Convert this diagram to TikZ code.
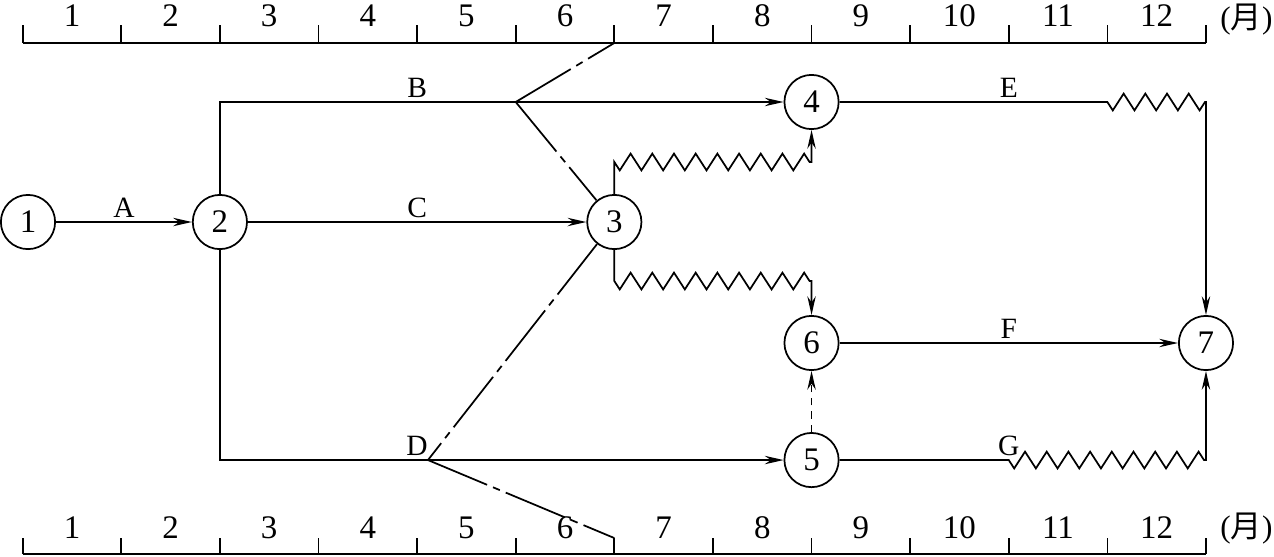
\documentclass[tikz,border=0pt]{standalone}
\usepackage{fontspec}
\setmainfont{Liberation Serif}
\newfontfamily\cjk{Noto Sans CJK SC}
\usetikzlibrary{arrows.meta,decorations.pathmorphing}

\tikzset{
  event/.style={circle,draw,minimum size=1.1cm,inner sep=0pt,font=\fontsize{19}{21}\selectfont},
  lab/.style={above,inner sep=2pt,font=\fontsize{17}{19}\selectfont},
  num/.style={font=\fontsize{19}{21}\selectfont},
  unit/.style={font=\fontsize{18}{20}\selectfont},
  wave/.style={decoration={zigzag,mirror,segment length=0.44cm,amplitude=0.17cm}},
  checkline/.style={dash pattern=on 1.3cm off 0.13cm on 0.15cm off 0.13cm},
}

\begin{document}
\begin{tikzpicture}[>={Stealth[length=3.8mm,width=1.7mm]},line width=1pt]
	  \useasboundingbox (-0.46,-6.775) rectangle (25.38,4.503);
	  % time scales
	  \draw (0,3.631) -- (24,3.631);
	  \draw (0,-6.734) -- (24,-6.734);
	  \foreach \i in {0,...,12} {
	    \draw (2*\i,3.631) -- (2*\i,3.996);
	    \draw (2*\i,-6.734) -- (2*\i,-6.41);
	  }
	  \foreach \i in {1,...,12} {
	    \node[num] (top\i) at (2*\i-1,4.18) {\i};
	    \node[num] (bot\i) at (2*\i-1,-6.207) {\i};
	  }
	  \node[unit] (topunit) at (24.82,4.1) {({\cjk 月})};
	  \node[unit] (botunit) at (24.82,-6.21) {({\cjk 月})};
	  % events
	  \node[event] (n1) at (0.108,0) {1};
	  \node[event] (n2) at (4,0) {2};
	  \node[event] (n3) at (12,0) {3};
	  \node[event] (n4) at (16,2.434) {4};
	  \node[event] (n6) at (16,-2.454) {6};
	  \node[event] (n5) at (16,-4.828) {5};
	  \node[event] (n7) at (24,-2.454) {7};
	  \coordinate (kB) at (10,2.434);
	  \coordinate (kD) at (8.22,-4.828);
	  \coordinate (t6) at (12,3.631);
	  \coordinate (b6) at (12,-6.41);
	  \coordinate (w1) at (12,1.217);
	  \coordinate (w2) at (16,1.217);
	  \coordinate (v1) at (12,-1.197);
	  \coordinate (v2) at (16,-1.197);
	  \coordinate (e1) at (22,2.434);
	  \coordinate (e2) at (24,2.434);
	  \coordinate (g1) at (20,-4.828);
	  \coordinate (g2) at (24,-4.828);
	  % activities
	  \draw[->] (n1) -- node[lab] (lA) {A} (n2);
	  \draw[->] (n2) -- node[lab] (lC) {C} (n3);
	  \draw[->] (n2) |- (n4);
	  \draw[->] (n2) |- (n5);
	  \node[lab] (lB) at (8,2.434) {B};
	  \node[lab] (lD) at (8,-4.828) {D};
	  \draw[->] (n3) -- (w1) decorate[wave] {-- (w2)} -- (n4);
	  \draw[->] (n3) -- (v1) decorate[wave] {-- (v2)} -- (n6);
	  \draw[->] (n4) -- (e1) decorate[wave] {-- (e2)} -- (n7);
	  \node[lab] (lE) at (20,2.434) {E};
	  \draw[->] (n6) -- node[lab] (lF) {F} (n7);
	  \draw[->] (n5) -- (g1) decorate[wave] {-- (g2)} -- (n7);
	  \node[lab] (lG) at (20,-4.828) {G};
	  \draw[->,dash pattern=on 0.15cm off 0.12cm] (n5) -- (n6);
	  % check line at month 6
	  \draw[checkline] (kB) -- (t6);
	  \draw[checkline] (kB) -- (n3);
	  \draw[checkline] (n3) -- (kD);
	  \draw[checkline] (kD) -- (b6);
	\end{tikzpicture}
\end{document}
